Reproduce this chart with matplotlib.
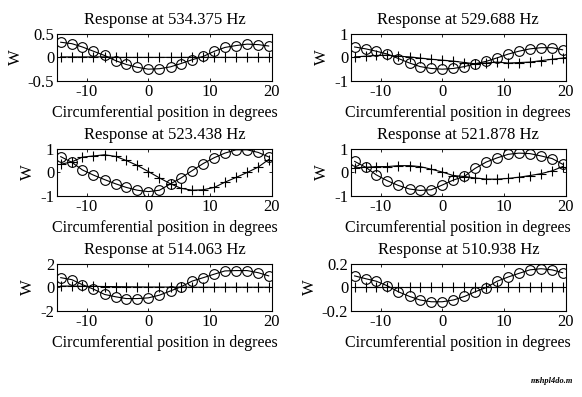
import numpy as np
import matplotlib
matplotlib.use('Agg')
import matplotlib.pyplot as plt

plt.rcParams['font.family'] = ['Liberation Serif', 'DejaVu Serif']

# circumferential positions (degrees)
pos = [-14.2, -12.4, -10.7, -8.9, -7.1, -5.3, -3.6, -1.8, 0.0, 1.8,
       3.6, 5.3, 7.1, 8.9, 10.7, 12.4, 14.2, 16.0, 17.8, 19.5]

freqs = ['534.375', '529.688', '523.438', '521.878', '514.063', '510.938']

# circle series
w_o_534 = [0.32, 0.29, 0.22, 0.13, 0.04, -0.07, -0.15, -0.21, -0.25, -0.24,
           -0.20, -0.13, -0.05, 0.02, 0.13, 0.21, 0.25, 0.28, 0.27, 0.24]
w_o_529 = [0.44, 0.36, 0.26, 0.14, -0.05, -0.24, -0.39, -0.47, -0.50, -0.47,
           -0.39, -0.27, -0.17, -0.02, 0.14, 0.26, 0.36, 0.41, 0.41, 0.32]
w_o_523 = [0.67, 0.43, 0.11, -0.11, -0.30, -0.48, -0.63, -0.75, -0.81, -0.75,
           -0.48, -0.23, 0.08, 0.38, 0.63, 0.82, 0.96, 0.96, 0.85, 0.66]
w_o_521 = [0.47, 0.22, -0.10, -0.35, -0.55, -0.70, -0.76, -0.73, -0.53, -0.32,
           -0.16, 0.17, 0.44, 0.62, 0.77, 0.82, 0.80, 0.70, 0.59, 0.35]
w_o_514 = [0.81, 0.64, 0.22, -0.16, -0.61, -0.81, -0.96, -0.96, -0.90, -0.67,
           -0.31, 0.04, 0.52, 0.81, 1.11, 1.38, 1.41, 1.41, 1.23, 0.96]
w_o_510 = [0.096, 0.072, 0.051, 0.012, -0.039, -0.078, -0.108, -0.123, -0.123, -0.108,
           -0.078, -0.039, -0.003, 0.051, 0.087, 0.117, 0.147, 0.157, 0.147, 0.123]

# plus series
w_p_534 = [0.01, 0.01, 0.01, 0.01, 0.01, 0.0, 0.0, 0.0, 0.0, 0.0,
           0.0, 0.0, 0.0, 0.0, 0.0, 0.0, 0.0, 0.0, 0.0, 0.0]
w_p_529 = [0.02, 0.05, 0.08, 0.09, 0.05, 0.02, -0.03, -0.08, -0.12, -0.16,
           -0.22, -0.27, -0.24, -0.20, -0.24, -0.22, -0.20, -0.14, -0.08, -0.03]
w_p_523 = [0.35, 0.45, 0.65, 0.70, 0.75, 0.68, 0.51, 0.30, 0.04, -0.23,
           -0.48, -0.67, -0.75, -0.73, -0.63, -0.41, -0.21, 0.0, 0.23, 0.55]
w_p_521 = [0.20, 0.22, 0.25, 0.25, 0.29, 0.29, 0.25, 0.14, 0.02, -0.13,
           -0.17, -0.23, -0.28, -0.28, -0.25, -0.20, -0.13, -0.05, 0.07, 0.25]
w_p_514 = [0.10, 0.10, 0.08, 0.07, 0.06, 0.05, 0.04, 0.03, 0.02, 0.02,
           0.01, 0.01, 0.0, 0.0, 0.0, 0.0, 0.0, 0.0, 0.0, 0.0]
w_p_510 = [0.0, 0.0, 0.0, 0.0, 0.0, 0.0, 0.0, 0.0, 0.0, 0.0,
           0.0, 0.0, 0.0, 0.0, 0.0, 0.0, 0.0, 0.0, 0.0, 0.0]

circles = [w_o_534, w_o_529, w_o_523, w_o_521, w_o_514, w_o_510]
pluses = [w_p_534, w_p_529, w_p_523, w_p_521, w_p_514, w_p_510]
ylims = [0.5, 1, 1, 1, 2, 0.2]
ytick_labels = [['-0.5', '0', '0.5'], ['-1', '0', '1'], ['-1', '0', '1'],
                ['-1', '0', '1'], ['-2', '0', '2'], ['-0.2', '0', '0.2']]

fig = plt.figure(figsize=(5.82, 3.97), dpi=100)

lefts = [0.098, 0.603]
bottoms = [0.796, 0.506, 0.217]
w, h = 0.369, 0.119

for i in range(6):
    row, col = i // 2, i % 2
    ax = fig.add_axes([lefts[col], bottoms[row], w, h])
    ax.plot(pos, circles[i], '-o', color='black', lw=0.8, ms=7,
            mfc='none', mew=0.8)
    ax.plot(pos, pluses[i], '-+', color='black', lw=0.8, ms=7, mew=0.8)
    ax.set_xlim(-14.8, 20)
    ax.set_ylim(-ylims[i], ylims[i])
    ax.set_xticks([-10, 0, 10, 20])
    ax.set_xticklabels(['-10', '0', '10', '20'])
    ax.set_yticks([-ylims[i], 0, ylims[i]])
    ax.set_yticklabels(ytick_labels[i])
    ax.tick_params(direction='in', top=True, right=True, length=2,
                   width=0.6, labelsize=12, pad=2)
    for s in ax.spines.values():
        s.set_linewidth(0.8)
    ax.set_title('Response at ' + freqs[i] + ' Hz', fontsize=12, pad=7)
    ax.set_xlabel('Circumferential position in degrees', fontsize=11.5, labelpad=4)
    ax.set_ylabel('W', fontsize=12, labelpad=3)

fig.text(0.985, 0.04, 'mshpl4do.m', fontsize=6, style='italic',
         weight='bold', ha='right', va='center')

fig.savefig('out.png', dpi=100)
